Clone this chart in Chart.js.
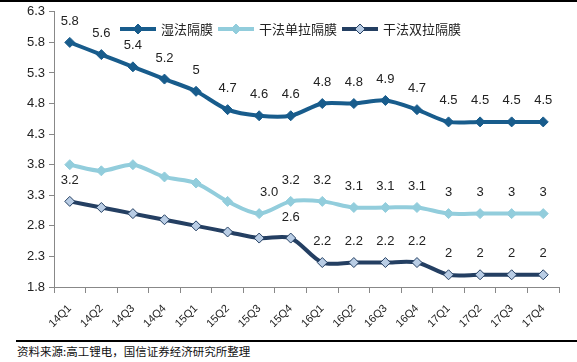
<!DOCTYPE html>
<html>
<head>
<meta charset="utf-8">
<script src="https://cdn.jsdelivr.net/npm/chart.js@4/dist/chart.umd.min.js"></script>
<style>
  html, body { margin: 0; padding: 0; background: #fff; }
  #wrap { position: relative; width: 577px; height: 362px; overflow: hidden; }
  #top-rule { position: absolute; left: 0; top: 0; width: 577px; height: 2px; background: #000; }
  #box { position: absolute; left: 0; top: 0; width: 577px; height: 330px; }
  #bottom-rule { position: absolute; left: 16px; top: 340px; width: 561px; height: 1.5px; background: #000; }
  #source { position: absolute; left: 17px; top: 343px; font: 11.5px "Noto Sans CJK SC", sans-serif; color: #111; white-space: nowrap; }
</style>
</head>
<body>
<div id="wrap">
  <div id="box"><canvas id="chart"></canvas></div>
  <div id="top-rule"></div>
  <div id="bottom-rule"></div>
  <div id="source">资料来源:高工锂电，国信证券经济研究所整理</div>
</div>
<script>
/* data */
const QUARTERS = ['14Q1','14Q2','14Q3','14Q4','15Q1','15Q2','15Q3','15Q4',
                  '16Q1','16Q2','16Q3','16Q4','17Q1','17Q2','17Q3','17Q4'];

const WET        = [5.8, 5.6, 5.4, 5.2, 5.0, 4.7, 4.6, 4.6, 4.8, 4.8, 4.85, 4.7, 4.5, 4.5, 4.5, 4.5];
const DRY_SINGLE = [3.8, 3.7, 3.8, 3.6, 3.5, 3.2, 3.0, 3.2, 3.2, 3.1, 3.1, 3.1, 3.0, 3.0, 3.0, 3.0];
const DRY_DOUBLE = [3.2, 3.1, 3.0, 2.9, 2.8, 2.7, 2.6, 2.6, 2.2, 2.2, 2.2, 2.2, 2.0, 2.0, 2.0, 2.0];

const WET_LABELS        = ['5.8','5.6','5.4','5.2','5','4.7','4.6','4.6','4.8','4.8','4.9','4.7','4.5','4.5','4.5','4.5'];
const DRY_SINGLE_LABELS = [null, null, null, null, null, null, '3.0','3.2','3.2','3.1','3.1','3.1','3','3','3','3'];
const DRY_DOUBLE_LABELS = ['3.2', null, null, null, null, null, null, '2.6','2.2','2.2','2.2','2.2','2','2','2','2'];

const Y_MIN = 1.8, Y_MAX = 6.3, Y_STEP = 0.5;

const SERIES = [
  { name: '湿法隔膜',     data: WET,        labels: WET_LABELS,        line: '#185c8c', fill: '#185c8c', edge: '#185c8c' },
  { name: '干法单拉隔膜', data: DRY_SINGLE, labels: DRY_SINGLE_LABELS, line: '#92cddc', fill: '#92cddc', edge: '#92cddc' },
  { name: '干法双拉隔膜', data: DRY_DOUBLE, labels: DRY_DOUBLE_LABELS, line: '#243f62', fill: '#b9cde5', edge: '#243f62' },
];

const NUM_FONT = '13px "Liberation Sans", Arial, sans-serif';
const CJK_FONT = '13px "Noto Sans CJK SC", sans-serif';

function diamond(ctx, x, y, r, fill, edge) {
  ctx.beginPath();
  ctx.moveTo(x, y - r); ctx.lineTo(x + r, y); ctx.lineTo(x, y + r); ctx.lineTo(x - r, y);
  ctx.closePath();
  ctx.fillStyle = fill; ctx.fill();
  ctx.lineWidth = 1; ctx.strokeStyle = edge; ctx.stroke();
}

/* value labels above the points */
const pointLabels = {
  id: 'pointLabels',
  afterDatasetsDraw(chart, args, opts) {
    const ctx = chart.ctx;
    ctx.save();
    ctx.font = NUM_FONT;
    ctx.fillStyle = '#222';
    ctx.textAlign = 'center';
    ctx.textBaseline = 'middle';
    SERIES.forEach((s, di) => {
      const meta = chart.getDatasetMeta(di);
      s.labels.forEach((txt, i) => {
        if (!txt) return;
        const p = meta.data[i];
        const dx = (opts.shift[di] && opts.shift[di][i]) || 0;
        ctx.fillText(txt, p.x + dx, p.y - 21);
      });
    });
    ctx.restore();
  }
};

/* legend drawn over the plot, line + marker samples */
const lineLegend = {
  id: 'lineLegend',
  afterDraw(chart, args, opts) {
    const ctx = chart.ctx;
    ctx.save();
    ctx.font = CJK_FONT;
    ctx.textBaseline = 'middle';
    let x = opts.x;
    const y = opts.y;
    SERIES.forEach(s => {
      ctx.beginPath();
      ctx.moveTo(x, y); ctx.lineTo(x + 36, y);
      ctx.lineWidth = 4; ctx.strokeStyle = s.line; ctx.stroke();
      diamond(ctx, x + 18, y, 5, s.fill, s.edge);
      ctx.fillStyle = '#222';
      ctx.fillText(s.name, x + 41, y);
      x += 41 + ctx.measureText(s.name).width + 5;
    });
    ctx.restore();
  }
};

new Chart(document.getElementById('chart'), {
  type: 'line',
  data: {
    labels: QUARTERS,
    datasets: SERIES.map(s => ({
      label: s.name,
      data: s.data,
      borderColor: s.line,
      borderWidth: 4,
      tension: 0.3,
      pointStyle: 'rectRot',
      pointRadius: 5,
      pointBackgroundColor: s.fill,
      pointBorderColor: s.edge,
      pointBorderWidth: 1,
    }))
  },
  options: {
    responsive: true,
    maintainAspectRatio: false,
    animation: false,
    layout: { padding: { top: 9, right: 18, left: 0, bottom: 0 } },
    plugins: {
      legend: { display: false },
      tooltip: { enabled: false },
      pointLabels: { shift: { 1: { 6: 10 } } },
      lineLegend: { x: 120, y: 29 },
    },
    scales: {
      x: {
        offset: true,
        afterFit: s => { s.height = 43; },
        grid: { offset: true, drawOnChartArea: false, drawTicks: true, tickLength: 6, color: '#888' },
        border: { display: true, color: '#888' },
        ticks: { autoSkip: false, minRotation: 45, maxRotation: 45, padding: 9,
                 color: '#222', font: { family: '"Liberation Sans", Arial, sans-serif', size: 11 } }
      },
      y: {
        min: Y_MIN, max: Y_MAX,
        afterFit: s => { s.width = 54; },
        grid: { drawOnChartArea: false, drawTicks: true, tickLength: 5, color: '#888' },
        border: { display: true, color: '#888' },
        ticks: { stepSize: Y_STEP, padding: 4, color: '#222',
                 font: { family: '"Liberation Sans", Arial, sans-serif', size: 13 },
                 callback: v => v.toFixed(1) }
      }
    }
  },
  plugins: [pointLabels, lineLegend]
});
</script>
</body>
</html>
